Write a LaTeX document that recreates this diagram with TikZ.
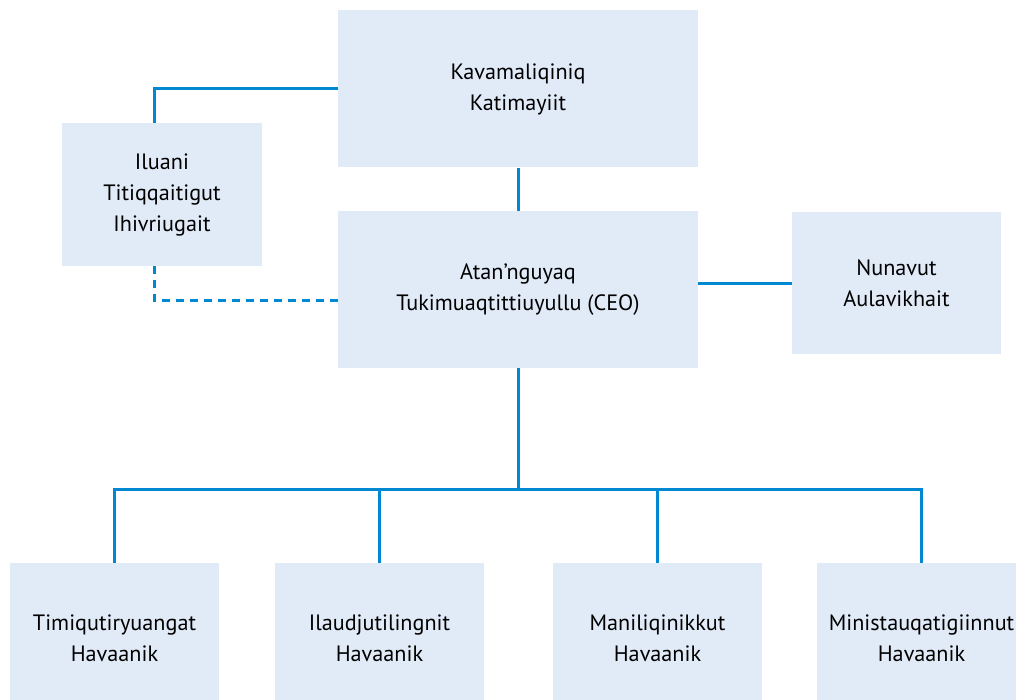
\documentclass[tikz,border=0pt]{standalone}
\usepackage{fontspec}
\setmainfont{PT Sans}
\definecolor{boxfill}{RGB}{225,235,247}
\definecolor{linkblue}{RGB}{0,136,210}
\begin{document}
\begin{tikzpicture}[x=0.5pt,y=-0.5pt,
    unit/.style={rectangle,fill=boxfill,inner sep=0pt,align=center,
      font=\fontsize{11.1pt}{15.5pt}\selectfont},
    link/.style={draw=linkblue,line width=1.5pt},
    dotlink/.style={link,dash pattern=on 4pt off 3pt}]

          \useasboundingbox (0,0) rectangle (1016,700);

          \node[unit,minimum width=180pt,minimum height=78.5pt] (board) at (518,89)
              {Kavamaliqiniq\\Katimayiit};
          \node[unit,minimum width=180pt,minimum height=78.5pt] (ceo) at (518,289.5)
              {Atan’nguyaq\\Tukimuaqtittiuyullu (CEO)};
          \node[unit,minimum width=100pt,minimum height=71.5pt] (advisor) at (162,194.5)
              {Iluani\\Titiqqaitigut\\Ihivriugait};
          \node[unit,minimum width=104.5pt,minimum height=71pt] (nunavut) at (896.5,283)
              {Nunavut\\Aulavikhait};

          \node[unit,minimum width=104.5pt,minimum height=75pt] (dept1) at (114.5,638)
              {Timiqutiryuangat\\Havaanik};
          \node[unit,minimum width=104.5pt,minimum height=75pt] (dept2) at (379.5,638)
              {Ilaudjutilingnit\\Havaanik};
          \node[unit,minimum width=104.5pt,minimum height=75pt] (dept3) at (657.5,638)
              {Maniliqinikkut\\Havaanik};
          \node[unit,minimum width=104.5pt,minimum height=75pt] (dept4) at (921.5,638)
              {Ministauqatigiinnut\\Havaanik};

          \coordinate (bus) at (518,489);

          \draw[link] (board.west) -| ([xshift=-4pt]advisor.north);
          \draw[dotlink] ([xshift=-4pt]advisor.south) |- ([yshift=-5.25pt]ceo.west);
          \draw[link] (board.south) -- (ceo.north);
          \draw[link] (nunavut.west) -- (nunavut.west -| ceo.east);
          \draw[link] (ceo.south) -- (bus);
          \draw[link] (dept1.north) |- (bus) -| (dept4.north);
          \draw[link] (dept2.north) -- (dept2.north |- bus);
          \draw[link] (dept3.north) -- (dept3.north |- bus);
      \end{tikzpicture}
\end{document}
